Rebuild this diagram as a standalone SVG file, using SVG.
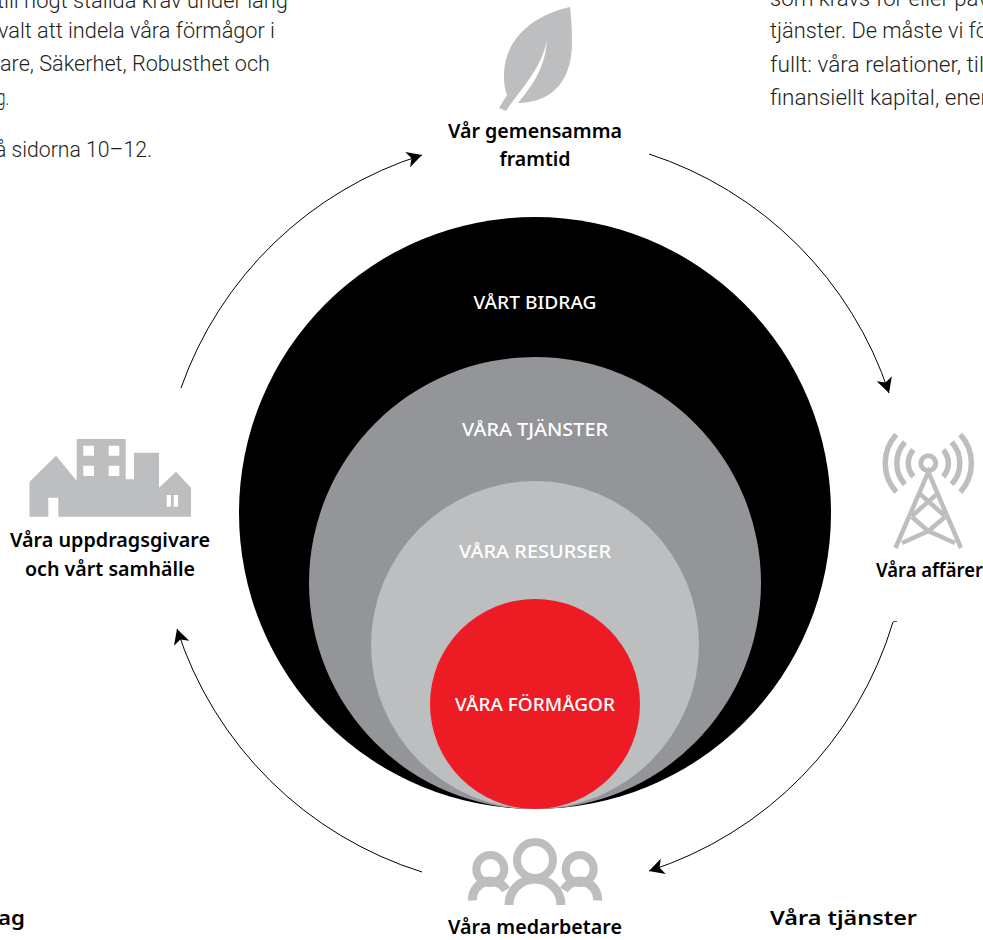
<svg xmlns="http://www.w3.org/2000/svg" width="983" height="940" viewBox="0 0 983 940">
<style>
.body{font-family:"Roboto","Liberation Sans",sans-serif;font-weight:300;font-size:22px;fill:#231f20}
.lab{font-family:"Noto Sans","Liberation Sans",sans-serif;font-weight:600;font-size:20px;fill:#000}
.in{font-family:"Noto Sans","Liberation Sans",sans-serif;font-weight:500;font-size:18px;fill:#fff}
.icon{fill:#bcbec0}
.st{fill:none;stroke:#bcbec0}
.arc{fill:none;stroke:#000;stroke-width:1}
</style>
<defs>
<marker id="ah" markerUnits="userSpaceOnUse" markerWidth="20" markerHeight="20" refX="15" refY="8" orient="auto" viewBox="0 0 20 16">
<path d="M0 0L15 8L0 16L4 8Z" fill="#000"/>
</marker>
</defs>
<rect width="983" height="940" fill="#fff"/>
<g id="text-left">
<text class="body" x="-3" y="8" textLength="291" lengthAdjust="spacingAndGlyphs">till högt ställda krav under lång</text>
<text class="body" x="-2" y="38" textLength="277" lengthAdjust="spacingAndGlyphs">valt att indela våra förmågor i</text>
<text class="body" x="0" y="71" textLength="270" lengthAdjust="spacingAndGlyphs">are, Säkerhet, Robusthet och</text>
<text class="body" x="-3" y="105" textLength="12" lengthAdjust="spacingAndGlyphs">g.</text>
<text class="body" x="-5" y="157" textLength="157" lengthAdjust="spacingAndGlyphs">å sidorna 10–12.</text>
</g>
<g id="text-right">
<text class="body" x="770" y="6" textLength="219" lengthAdjust="spacingAndGlyphs">som krävs för eller påv</text>
<text class="body" x="770" y="38" textLength="218" lengthAdjust="spacingAndGlyphs">tjänster. De måste vi fö</text>
<text class="body" x="770" y="72" textLength="214" lengthAdjust="spacingAndGlyphs">fullt: våra relationer, til</text>
<text class="body" x="770" y="105" textLength="218" lengthAdjust="spacingAndGlyphs">finansiellt kapital, ener</text>
</g>
<g id="connectors">
<path class="arc" marker-end="url(#ah)" d="M649 154A375 375 0 0 1 889 393"/>
<path class="arc" marker-end="url(#ah)" d="M893 622A375 375 0 0 1 649 871"/>
<path class="arc" marker-end="url(#ah)" d="M422 872A375 375 0 0 1 177 629"/>
<path class="arc" marker-end="url(#ah)" d="M181 388A375 375 0 0 1 422 155"/>
<path d="M893 621.5H897" stroke="#ec008c" stroke-width="1" fill="none"/>
</g>
<g id="circle-bidrag">
<circle cx="535" cy="513" r="296" fill="#000"/>
<text class="in" x="535" y="309" text-anchor="middle" textLength="123" lengthAdjust="spacingAndGlyphs">VÅRT BIDRAG</text>
</g>
<g id="circle-tjanster">
<circle cx="535" cy="583" r="226" fill="#939598"/>
<text class="in" x="535" y="436" text-anchor="middle" textLength="146" lengthAdjust="spacingAndGlyphs">VÅRA TJÄNSTER</text>
</g>
<g id="circle-resurser">
<circle cx="535" cy="645" r="164" fill="#bcbec0"/>
<text class="in" x="535" y="558" text-anchor="middle" textLength="152" lengthAdjust="spacingAndGlyphs">VÅRA RESURSER</text>
</g>
<g id="circle-formagor">
<circle cx="535" cy="704" r="105" fill="#ed1c24"/>
<text class="in" x="535" y="711" text-anchor="middle" textLength="160" lengthAdjust="spacingAndGlyphs">VÅRA FÖRMÅGOR</text>
</g>
<g id="node-framtid">
<path class="icon" d="M570 7C542 13 504 33 504 76C504 84 505 90 507 95L499 108L506 111C520 90 541 70 547 40C545 70 530 88 518 103C548 103 573 85 572 40C572 28 571 15 570 7Z"/>
<text class="lab" x="535" y="138" text-anchor="middle" textLength="174" lengthAdjust="spacingAndGlyphs">Vår gemensamma</text>
<text class="lab" x="535" y="166" text-anchor="middle" textLength="71" lengthAdjust="spacingAndGlyphs">framtid</text>
</g>
<g id="node-affarer">
<circle class="st" cx="928.3" cy="463.3" r="7.5" stroke-width="5"/>
<path class="st" stroke-width="5.5" d="M913.4 449.9A20 20 0 0 0 913.4 476.7M904.9 442.2A31.5 31.5 0 0 0 904.9 484.4M896.3 434.5A43 43 0 0 0 896.3 492.1M943.2 449.9A20 20 0 0 1 943.2 476.7M951.7 442.2A31.5 31.5 0 0 1 951.7 484.4M960.3 434.5A43 43 0 0 1 960.3 492.1"/>
<path class="st" stroke-width="4.5" d="M895.5 548L928.3 472L961 548M920 494L945 516M937 494L912 516M912 517L928.3 531L955 543M945 517L928.3 531L902 543"/>
<text class="lab" x="929.5" y="577" text-anchor="middle" textLength="107" lengthAdjust="spacingAndGlyphs">Våra affärer</text>
</g>
<g id="node-medarbetare">
<circle class="st" cx="535" cy="860" r="18" stroke-width="8"/>
<circle class="st" cx="490.3" cy="869" r="14" stroke-width="8"/>
<circle class="st" cx="579.7" cy="869" r="14" stroke-width="8"/>
<path class="st" stroke-width="9" d="M472.500 900.500A18 18 0 0 1 506 890M597.500 900.500A18 18 0 0 0 564 890M509 905A26 26 0 0 1 561 905"/>
<text class="lab" x="535" y="934" text-anchor="middle" textLength="174" lengthAdjust="spacingAndGlyphs">Våra medarbetare</text>
</g>
<g id="node-samhalle">
<path class="icon" fill-rule="evenodd" d="M29.500 481.700L56 455.700L76.700 480.700V439H125.700V479.300H134V452.700H159V487.700L176 471.700L191 487.700V516.700H58.300V497.700H48.300V516.700H29.500ZM83.300 445.700V455.700H94V445.700ZM108.700 445.700V455.700H119.300V445.700ZM83.300 465.700V476H94V465.700ZM108.700 465.700V476H119.300V465.700ZM166.700 495V506.700H171V495ZM173.700 495V506.700H178V495Z"/>
<text class="lab" x="110" y="547" text-anchor="middle" textLength="200" lengthAdjust="spacingAndGlyphs">Våra uppdragsgivare</text>
<text class="lab" x="110" y="576" text-anchor="middle" textLength="170" lengthAdjust="spacingAndGlyphs">och vårt samhälle</text>
</g>
<g id="text-bottom">
<text class="lab" x="-2" y="925" font-size="21" textLength="27" lengthAdjust="spacingAndGlyphs">ag</text>
<text class="lab" x="770" y="925" textLength="147" lengthAdjust="spacingAndGlyphs">Våra tjänster</text>
</g>
</svg>
